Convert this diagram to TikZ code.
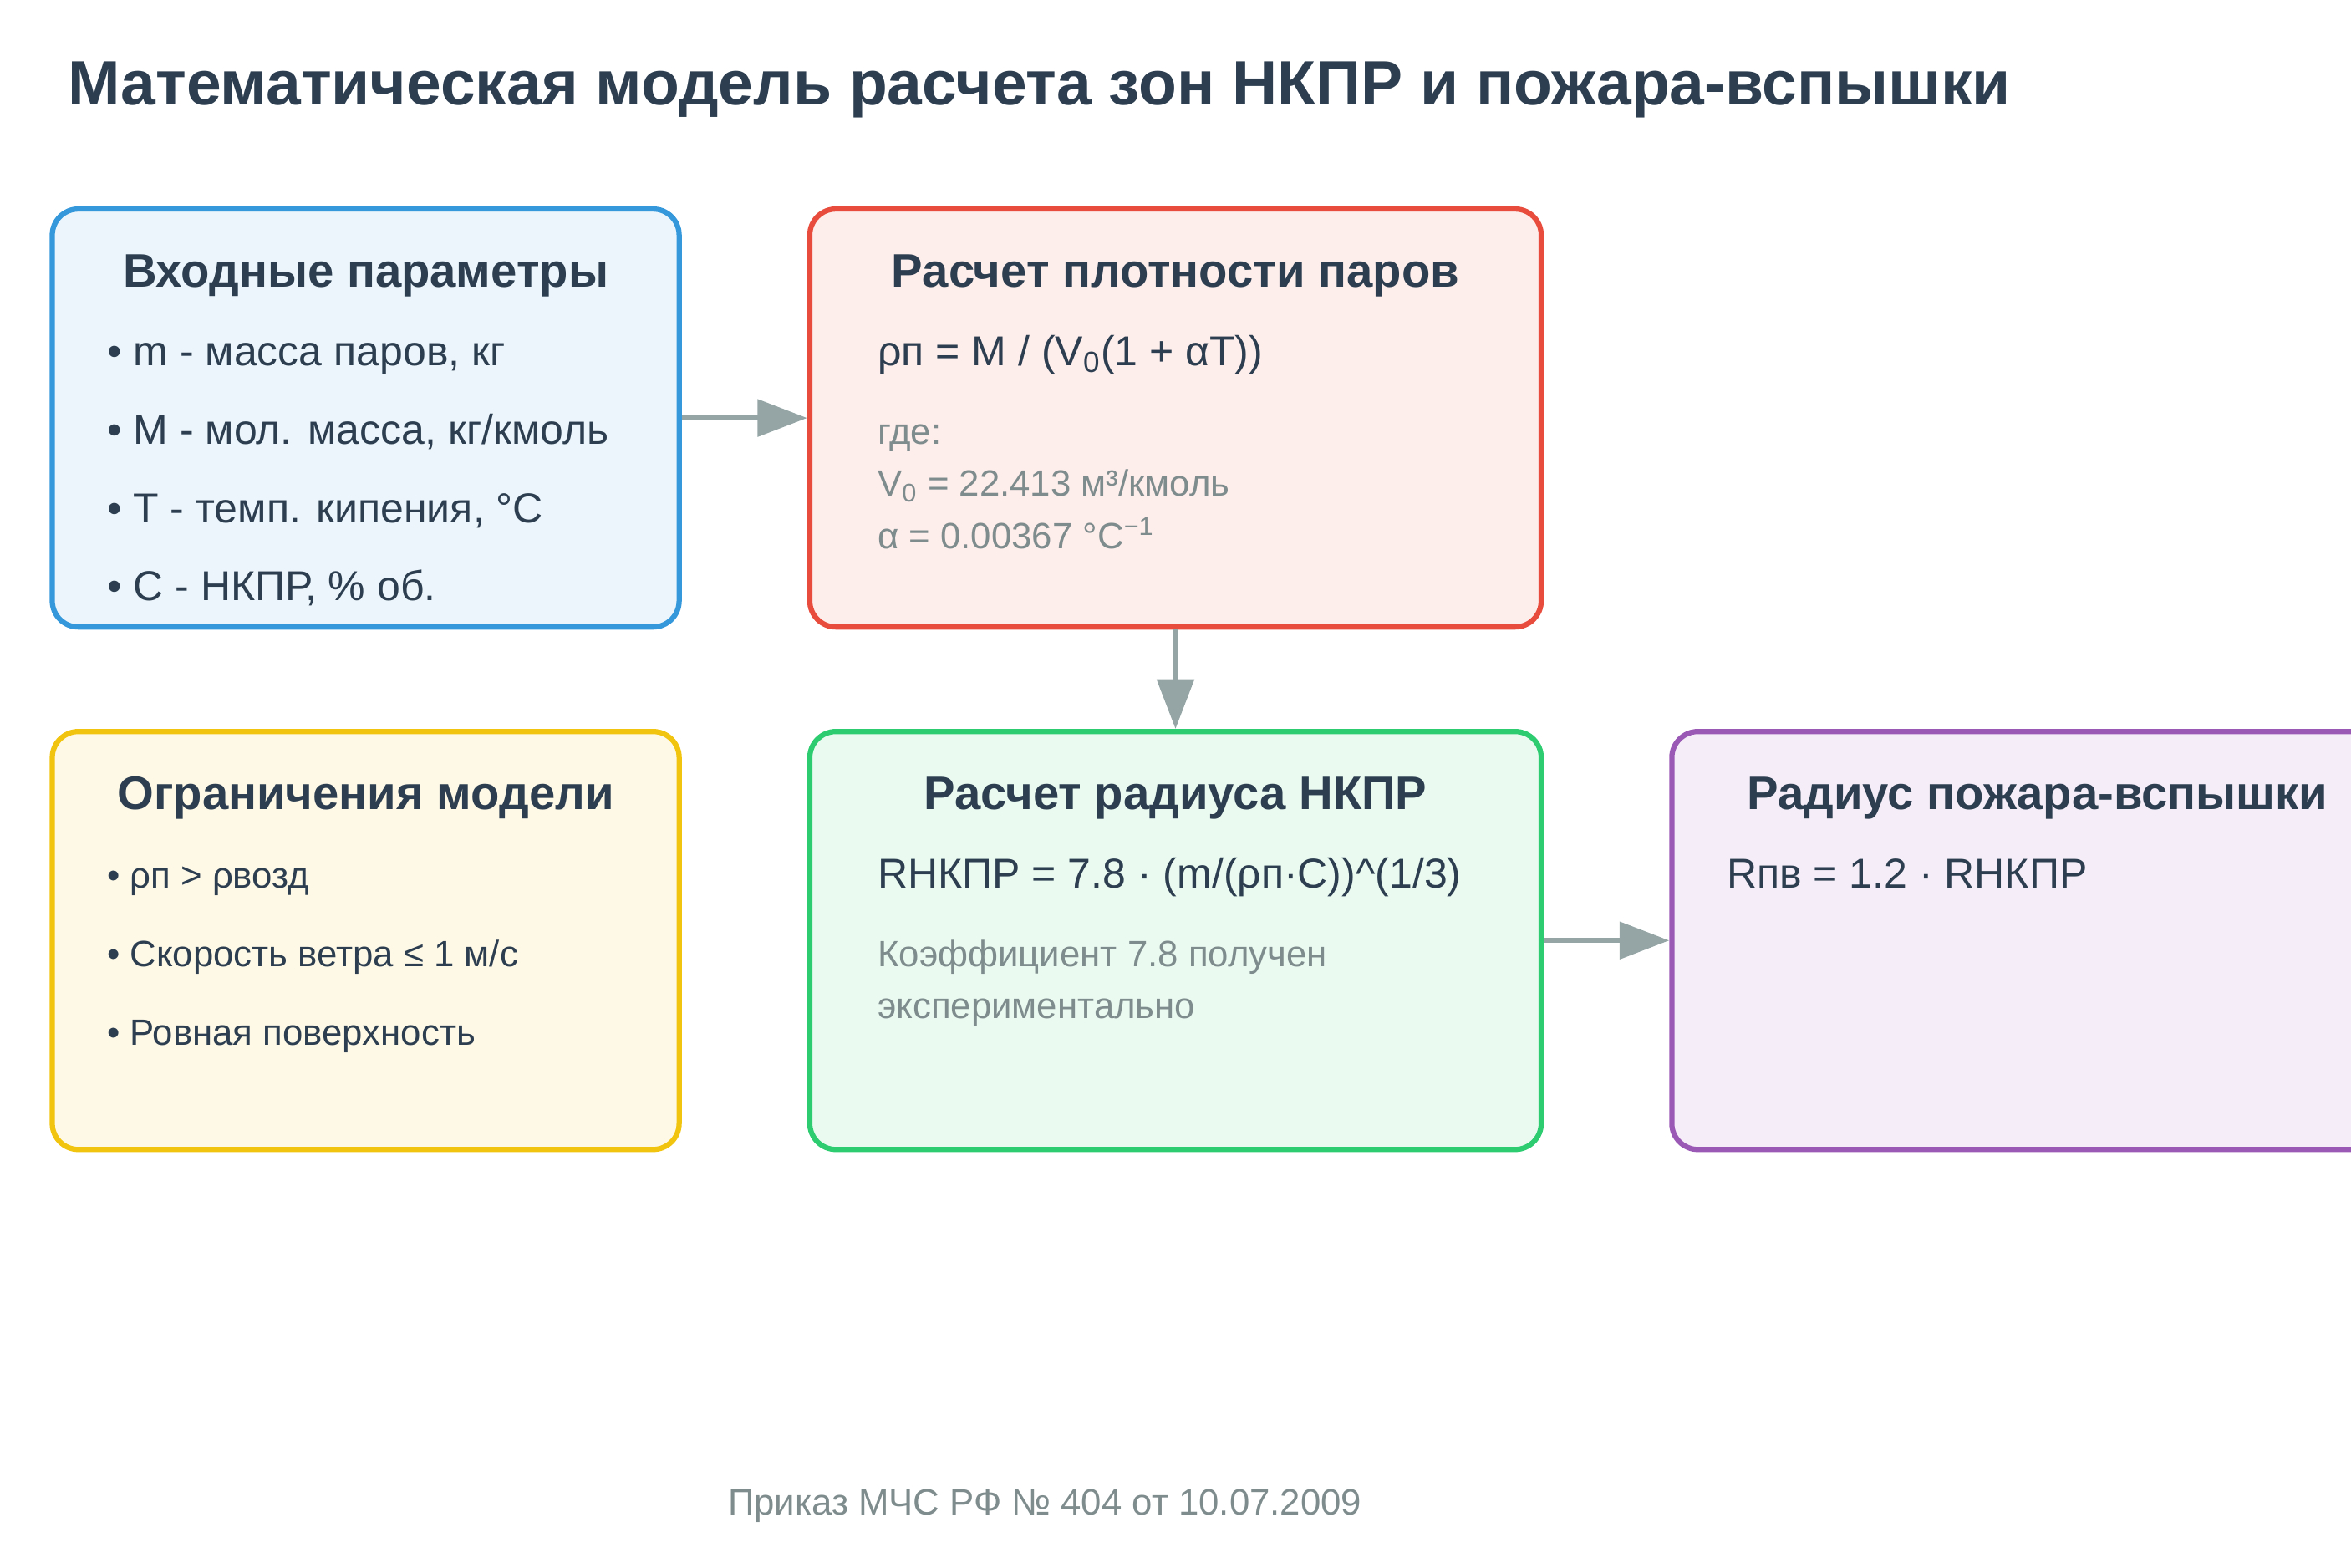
\documentclass[tikz,border=0pt]{standalone}
\usepackage{fontspec}
\setmainfont{Liberation Sans}
\usetikzlibrary{arrows.meta}
\definecolor{cdark}{HTML}{2C3E50}
\definecolor{cgrey}{HTML}{7F8C8D}
\definecolor{carrow}{HTML}{95A5A6}
\definecolor{cblue}{HTML}{3498DB}
\definecolor{cred}{HTML}{E74C3C}
\definecolor{cyellow}{HTML}{F1C40F}
\definecolor{cgreen}{HTML}{2ECC71}
\definecolor{cpurple}{HTML}{9B59B6}
\tikzset{
  every picture/.style={line width=2pt},
  box/.style={draw=#1, fill=#1!10, rounded corners=10pt, minimum width=280pt, minimum height=160pt},
  box/.default=carrow,
  arrow/.style={-{Triangle[length=19pt, width=14pt]}, draw=carrow, line width=2pt},
  title/.style={font=\bfseries\fontsize{24}{29}\selectfont, text=cdark, anchor=base west, inner sep=0pt},
  head/.style={font=\bfseries\fontsize{18}{22}\selectfont, text=cdark, anchor=base, inner sep=0pt},
  item/.style={font=\fontsize{16}{19}\selectfont, text=cdark, anchor=base west, inner sep=0pt},
  note/.style={font=\fontsize{14}{17}\selectfont, text=cgrey, anchor=base west, inner sep=0pt},
}

\begin{document}
\begin{tikzpicture}[
    x=1pt, y=-1pt,
    narrow/.style={box=#1, minimum width=240pt},
    small/.style={item, font=\fontsize{14}{17}\selectfont},
  ]
  \useasboundingbox (0,0) rectangle (900,600);
  \node[title] (ttl) at (25,40) {Математическая модель расчета зон НКПР и пожара-вспышки};

  % ---- boxes
  \node[narrow=cblue]  (inp)   at (140,160) {};
  \node[box=cred]      (dens)  at (450,160) {};
  \node[narrow=cyellow] (lim)  at (140,360) {};
  \node[box=cgreen]    (rad)   at (450,360) {};
  \node[box=cpurple]   (flash) at (780,360) {};

  % ---- input parameters
  \node[head] (inph) at (140,110) {Входные параметры};
  \node[item] (inp1) at (40,140) {• m - масса паров, кг};
  \node[item] (inp2) at (40,170) {• M - мол. масса, кг/кмоль};
  \node[item] (inp3) at (40,200) {• T - темп. кипения, °C};
  \node[item] (inp4) at (40,230) {• C - НКПР, \% об.};

  % ---- vapour density
  \node[head] (densh) at (450,110) {Расчет плотности паров};
  \node[item] (densf) at (335,140) {ρп = M / (V\textsubscript{0}(1 + αT))};
  \node[note] (dens1) at (335,170) {где:};
  \node[note] (dens2) at (335,190) {V\textsubscript{0} = 22.413 м³/кмоль};
  \node[note] (dens3) at (335,210) {α = 0.00367 °C\textsuperscript{−1}};

  % ---- limits
  \node[head]  (limh) at (140,310) {Ограничения модели};
  \node[small] (lim1) at (40,340) {• ρп > ρвозд};
  \node[small] (lim2) at (40,370) {• Скорость ветра ≤ 1 м/с};
  \node[small] (lim3) at (40,400) {• Ровная поверхность};

  % ---- LFL radius
  \node[head] (radh) at (450,310) {Расчет радиуса НКПР};
  \node[item] (radf) at (335,340) {RНКПР = 7.8 · (m/(ρп·C))\textasciicircum(1/3)};
  \node[note] (rad1) at (335,370) {Коэффициент 7.8 получен};
  \node[note] (rad2) at (335,390) {экспериментально};

  % ---- flash fire
  \node[head] (flashh) at (780,310) {Радиус пожара-вспышки};
  \node[item] (flashf) at (660,340) {Rпв = 1.2 · RНКПР};

  \draw[arrow] (inp.east) -- (dens.west);
  \draw[arrow] (dens.south) -- (rad.north);
  \draw[arrow] (rad.east) -- (flash.west);

  \node[note, anchor=base] (src) at (400,580) {Приказ МЧС РФ № 404 от 10.07.2009};
\end{tikzpicture}
\end{document}
